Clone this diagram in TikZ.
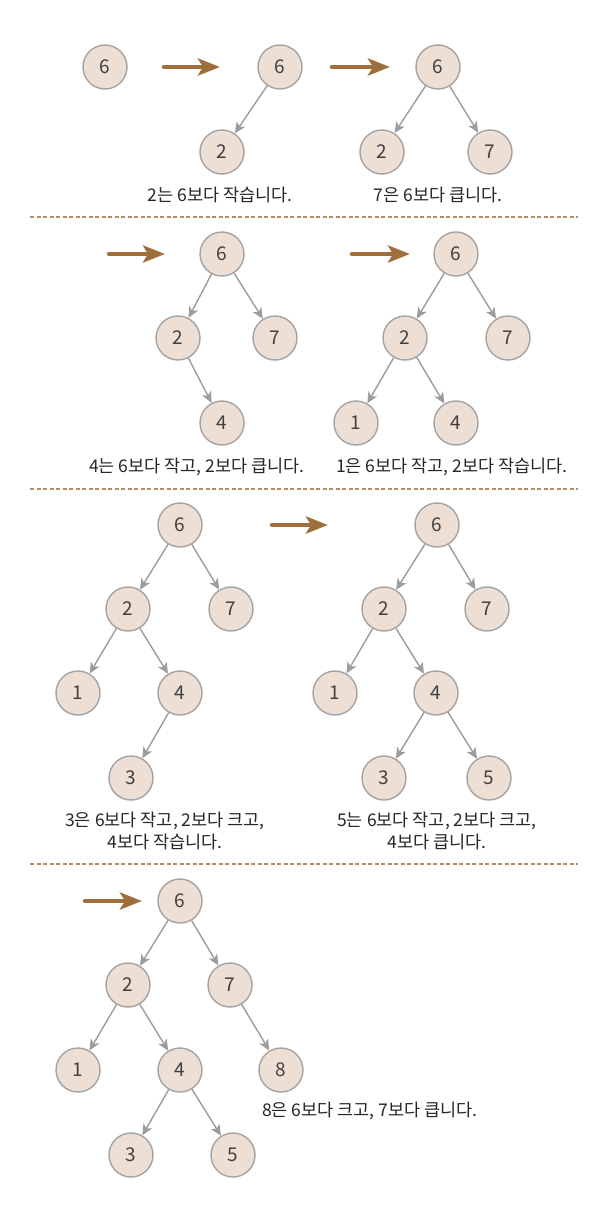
\documentclass[tikz,border=0pt]{standalone}
\usepackage{fontspec}
\setmainfont{Noto Sans CJK KR}
\usetikzlibrary{arrows.meta}
\definecolor{nodefill}{HTML}{EEDFD5}
\definecolor{nodeline}{HTML}{A3A3A3}
\definecolor{edgegray}{HTML}{9C9C9C}
\definecolor{stepbrown}{HTML}{9E6E3C}
\definecolor{dashbrown}{HTML}{B38D63}

\tikzset{
  bnode/.style={circle,draw=nodeline,line width=1.4pt,fill=nodefill,minimum size=44pt,inner sep=0pt,font=\fontsize{19}{20}\selectfont,text=black!75},
  edge/.style={draw=edgegray,line width=1.4pt,-{Stealth[length=11pt,width=10pt,inset=3pt]}},
  stepto/.style={draw=stepbrown,line width=4.5pt,line cap=round,-{Stealth[length=22pt,width=17pt,inset=5pt]}},
  caption/.style={font=\fontsize{17.5}{22}\selectfont,text=black!85,align=center,inner sep=0pt},
  sep/.style={draw=dashbrown,line width=1.2pt,dash pattern=on 4pt off 2.5pt}
}

\begin{document}
\begin{tikzpicture}[x=1pt,y=-1pt]
    \useasboundingbox (0,0) rectangle (615,1207);
    %% step 1
    \node[bnode] (a6) at (105,67) {6};
    \coordinate (aS) at (164,67);
    \coordinate (aE) at (220,67);
    \draw[stepto] (aS) -- (aE);
    \node[bnode] (b6) at (280,67) {6};
    \node[bnode] (b2) at (222,152) {2};
    \draw[edge] (b6) -- (b2);
    \node[caption] (bt) at (220,195) {2는 6보다 작습니다.};
    %%
    \coordinate (bS) at (332,67);
    \coordinate (bE) at (390,67);
    \draw[stepto] (bS) -- (bE);
    \node[bnode] (c6) at (438,67) {6};
    \node[bnode] (c2) at (382,152) {2};
    \node[bnode] (c7) at (490,152) {7};
    \draw[edge] (c6) -- (c2);
    \draw[edge] (c6) -- (c7);
    \node[caption] (ct) at (438,195) {7은 6보다 큽니다.};
    %%
    \coordinate (s1a) at (30,217);
    \coordinate (s1b) at (578,217);
    \draw[sep] (s1a) -- (s1b);
    %% step 2
    \coordinate (cS) at (109,254);
    \coordinate (cE) at (165,254);
    \draw[stepto] (cS) -- (cE);
    \node[bnode] (d6) at (222,254) {6};
    \node[bnode] (d2) at (178,338) {2};
    \node[bnode] (d7) at (275,338) {7};
    \node[bnode] (d4) at (222,423) {4};
    \draw[edge] (d6) -- (d2);
    \draw[edge] (d6) -- (d7);
    \draw[edge] (d2) -- (d4);
    \node[caption] (dt) at (197,467) {4는 6보다 작고, 2보다 큽니다.};
    %%
    \coordinate (dS) at (352,254);
    \coordinate (dE) at (410,254);
    \draw[stepto] (dS) -- (dE);
    \node[bnode] (e6) at (456,254) {6};
    \node[bnode] (e2) at (405,338) {2};
    \node[bnode] (e7) at (508,338) {7};
    \node[bnode] (e1) at (356,423) {1};
    \node[bnode] (e4) at (456,423) {4};
    \draw[edge] (e6) -- (e2);
    \draw[edge] (e6) -- (e7);
    \draw[edge] (e2) -- (e1);
    \draw[edge] (e2) -- (e4);
    \node[caption] (et) at (452,467) {1은 6보다 작고, 2보다 작습니다.};
    %%
    \coordinate (s2a) at (30,489);
    \coordinate (s2b) at (578,489);
    \draw[sep] (s2a) -- (s2b);
    %% step 3
    \node[bnode] (f6) at (180,525) {6};
    \node[bnode] (f2) at (128,609) {2};
    \node[bnode] (f7) at (231,609) {7};
    \node[bnode] (f1) at (78,693) {1};
    \node[bnode] (f4) at (180,693) {4};
    \node[bnode] (f3) at (131,778) {3};
    \draw[edge] (f6) -- (f2);
    \draw[edge] (f6) -- (f7);
    \draw[edge] (f2) -- (f1);
    \draw[edge] (f2) -- (f4);
    \draw[edge] (f4) -- (f3);
    \node[caption] (ft) at (165,831) {3은 6보다 작고, 2보다 크고,\\4보다 작습니다.};
    %%
    \coordinate (eS) at (272,525);
    \coordinate (eE) at (328,525);
    \draw[stepto] (eS) -- (eE);
    \node[bnode] (g6) at (437,525) {6};
    \node[bnode] (g2) at (384,609) {2};
    \node[bnode] (g7) at (487,609) {7};
    \node[bnode] (g1) at (335,693) {1};
    \node[bnode] (g4) at (436,693) {4};
    \node[bnode] (g3) at (384,778) {3};
    \node[bnode] (g5) at (489,778) {5};
    \draw[edge] (g6) -- (g2);
    \draw[edge] (g6) -- (g7);
    \draw[edge] (g2) -- (g1);
    \draw[edge] (g2) -- (g4);
    \draw[edge] (g4) -- (g3);
    \draw[edge] (g4) -- (g5);
    \node[caption] (gt) at (437,831) {5는 6보다 작고, 2보다 크고,\\4보다 큽니다.};
    %%
    \coordinate (s3a) at (30,864);
    \coordinate (s3b) at (578,864);
    \draw[sep] (s3a) -- (s3b);
    %% step 4
    \coordinate (fS) at (85,901);
    \coordinate (fE) at (142,901);
    \draw[stepto] (fS) -- (fE);
    \node[bnode] (h6) at (180,901) {6};
    \node[bnode] (h2) at (128,985) {2};
    \node[bnode] (h7) at (230,985) {7};
    \node[bnode] (h1) at (78,1070) {1};
    \node[bnode] (h4) at (180,1070) {4};
    \node[bnode] (h8) at (281,1070) {8};
    \node[bnode] (h3) at (131,1155) {3};
    \node[bnode] (h5) at (233,1155) {5};
    \draw[edge] (h6) -- (h2);
    \draw[edge] (h6) -- (h7);
    \draw[edge] (h2) -- (h1);
    \draw[edge] (h2) -- (h4);
    \draw[edge] (h7) -- (h8);
    \draw[edge] (h4) -- (h3);
    \draw[edge] (h4) -- (h5);
    \node[caption,anchor=west] (ht) at (262,1111) {8은 6보다 크고, 7보다 큽니다.};
\end{tikzpicture}
\end{document}
